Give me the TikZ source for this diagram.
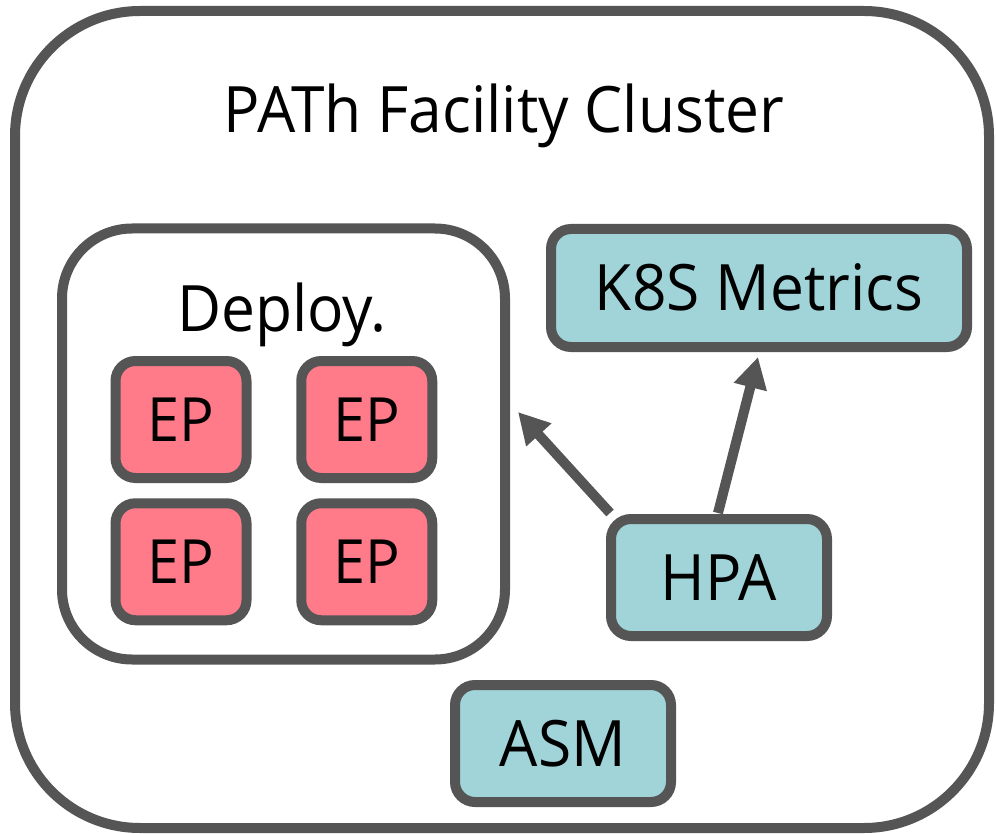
\documentclass[tikz,border=0pt]{standalone}
\usepackage{fontspec}
\setmainfont[FakeStretch=0.945]{Open Sans}
\usetikzlibrary{arrows.meta,calc,backgrounds}

\definecolor{edgegray}{HTML}{555555}
\definecolor{tealfill}{HTML}{A0D4D8}
\definecolor{epfill}{HTML}{FF7B8A}

\tikzset{
  container/.style={draw=edgegray, line width=10pt, inner sep=0pt},
  card/.style={draw=edgegray, line width=10pt, rounded corners=20pt, inner sep=0pt,
    text height=46pt, text depth=0pt, font=\fontsize{64}{70}\selectfont},
  service/.style={card, fill=tealfill},
  endpoint/.style={card, fill=epfill, minimum width=131pt, minimum height=117pt,
    text height=43pt, font=\fontsize{61}{66}\selectfont},
  title/.style={anchor=base, inner sep=0pt, font=\fontsize{64}{70}\selectfont},
  link/.style={draw=edgegray, line width=10pt, -{Triangle[length=31pt,width=32pt]}}
}

\begin{document}
\begin{tikzpicture}[x=1pt, y=-1pt]
  \useasboundingbox (0,0) rectangle (996,834);

  % outer cluster frame
  \node[container, rounded corners=125pt, minimum width=974pt, minimum height=817pt]
    (cluster) at (502,419.5) {};
  \node[title] (clustertitle) at (504,133) {PATh Facility Cluster};

  % deployment group with its endpoints
  \node[container, rounded corners=70pt, minimum width=443pt, minimum height=431pt]
    (deploy) at (283.5,444) {};
  \node[title] (deploytitle) at (282,332) {Deploy.};

  \node[endpoint] (ep1) at (181,419.5) {EP};
  \node[endpoint] (ep2) at (366.75,419.5) {EP};
  \node[endpoint] (ep3) at (181,561.75) {EP};
  \node[endpoint] (ep4) at (366.75,561.75) {EP};

  % services
  \node[service, minimum width=216pt, minimum height=117pt] (hpa) at (719,577.5) {HPA};
  \node[service, minimum width=416pt, minimum height=118pt] (k8s) at (759,288) {K8S Metrics};
  \node[service, minimum width=216pt, minimum height=117pt] (asm) at (563,743.5) {ASM};

  % autoscaler connectors, kept beneath the box borders
  \begin{scope}[on background layer]
    \fill[white] (0,0) rectangle (996,834);
    \draw[link] ($(hpa.north west)+(4,-1)$) -- ($(deploy.east)+(8,-32)$);
    \draw[link] ($(hpa.north)+(-1,-1)$) -- ($(k8s.south)+(-1,5)$);
  \end{scope}
\end{tikzpicture}
\end{document}
